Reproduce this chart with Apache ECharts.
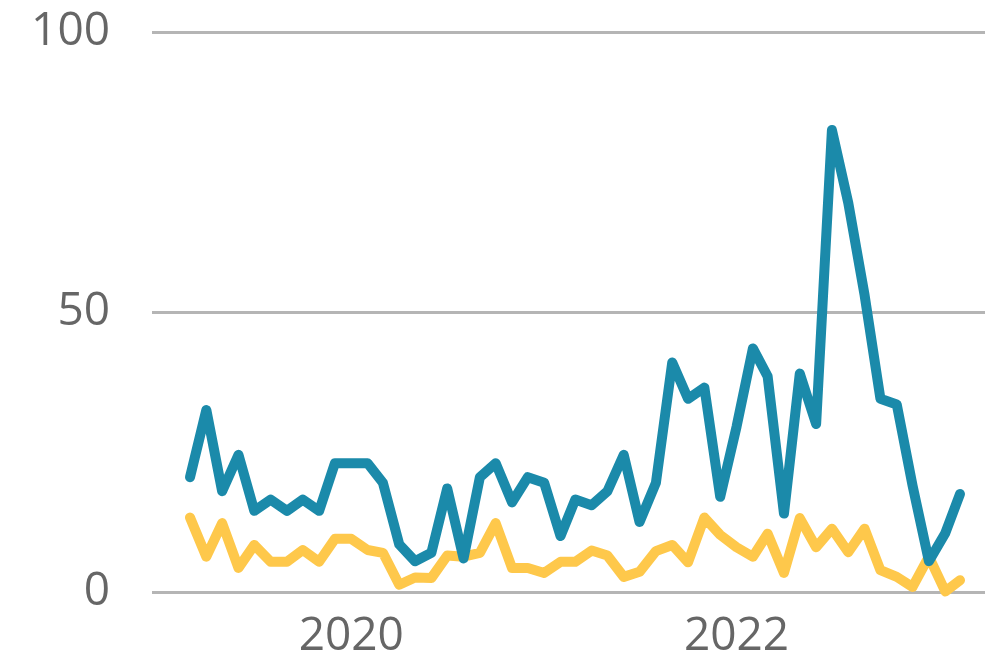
<!DOCTYPE html>
<html>
<head>
<meta charset="utf-8">
<script src="https://cdn.jsdelivr.net/npm/echarts@6/dist/echarts.min.js"></script>
<style>
  html, body { margin: 0; padding: 0; background: #fff; }
  #chart { width: 985px; height: 667px; }
</style>
</head>
<body>
<div id="chart"></div>
<script>
// monthly points, Mar 2019 .. Mar 2023
const months = [
  '2019-03','2019-04','2019-05','2019-06','2019-07','2019-08','2019-09','2019-10','2019-11','2019-12',
  '2020-01','2020-02','2020-03','2020-04','2020-05','2020-06','2020-07','2020-08','2020-09','2020-10','2020-11','2020-12',
  '2021-01','2021-02','2021-03','2021-04','2021-05','2021-06','2021-07','2021-08','2021-09','2021-10','2021-11','2021-12',
  '2022-01','2022-02','2022-03','2022-04','2022-05','2022-06','2022-07','2022-08','2022-09','2022-10','2022-11','2022-12',
  '2023-01','2023-02','2023-03'
];
const blueValues = [
  20.5, 32.5, 18, 24.5, 14.5, 16.5, 14.5, 16.5, 14.5, 23,
  23, 23, 19.5, 8.5, 5.5, 7, 18.5, 6, 20.5, 23, 16, 20.5,
  19.5, 10, 16.5, 15.5, 18, 24.5, 12.5, 19.5, 41, 34.5, 36.5, 17,
  29.5, 43.5, 38.5, 14, 39, 30, 82.5, 69.5, 53, 34.5, 33.5, 19,
  5.5, 10.5, 17.5
];
const yellowValues = [
  13.3, 6.3, 12.3, 4.3, 8.4, 5.4, 5.4, 7.5, 5.4, 9.5,
  9.5, 7.5, 7, 1.3, 2.6, 2.5, 6.5, 6.3, 7, 12.3, 4.3, 4.3,
  3.4, 5.4, 5.4, 7.4, 6.5, 2.7, 3.6, 7.3, 8.4, 5.3, 13.3, 10.2,
  8, 6.3, 10.4, 3.4, 13.2, 8, 11.3, 7.1, 11.3, 3.9, 2.7, 0.9,
  6.3, 0.1, 2.1
];
const yearLabels = [2020, 2022];
const yTicks = [0, 50, 100];

const gridLeft = 152, gridRight = 0;
const firstX = 190, lastX = 960, chartW = 985;
const t0 = new Date(months[0] + '-01').getTime();
const tN = new Date(months[months.length - 1] + '-01').getTime();
const msPerPx = (tN - t0) / (lastX - firstX);
const xMin = t0 - (firstX - gridLeft) * msPerPx;
const xMax = tN + (chartW - gridRight - lastX) * msPerPx;

const pts = vals => months.map((m, i) => [m + '-01', vals[i]]);

const chart = echarts.init(document.getElementById('chart'));
chart.setOption({
  animation: false,
  grid: { left: gridLeft, right: gridRight, top: 32, bottom: 75, containLabel: false },
  xAxis: {
    type: 'time',
    min: xMin,
    max: xMax,
    axisLine: { show: false },
    axisTick: { show: false },
    splitLine: { show: false },
    axisLabel: {
      showMinLabel: false,
      showMaxLabel: false,
      hideOverlap: false,
      margin: 22,
      fontSize: 46,
      color: '#666666',
      fontFamily: 'Open Sans',
      formatter: function (v) {
        const d = new Date(v);
        if (d.getMonth() === 0 && d.getDate() === 1 && yearLabels.indexOf(d.getFullYear()) >= 0) {
          return String(d.getFullYear());
        }
        return '';
      }
    }
  },
  yAxis: {
    type: 'value',
    min: yTicks[0],
    max: yTicks[yTicks.length - 1],
    interval: 50,
    axisLine: { show: false },
    axisTick: { show: false },
    splitLine: { lineStyle: { color: '#b5b5b5', width: 3 } },
    axisLabel: {
      margin: 42,
      fontSize: 46,
      color: '#666666',
      fontFamily: 'Open Sans'
    }
  },
  series: [
    {
      type: 'line',
      data: pts(yellowValues),
      showSymbol: false,
      lineStyle: { color: '#fec84b', width: 10, cap: 'round', join: 'round' }
    },
    {
      type: 'line',
      data: pts(blueValues),
      showSymbol: false,
      lineStyle: { color: '#1b8aaa', width: 10, cap: 'round', join: 'round' }
    }
  ]
});
</script>
</body>
</html>
